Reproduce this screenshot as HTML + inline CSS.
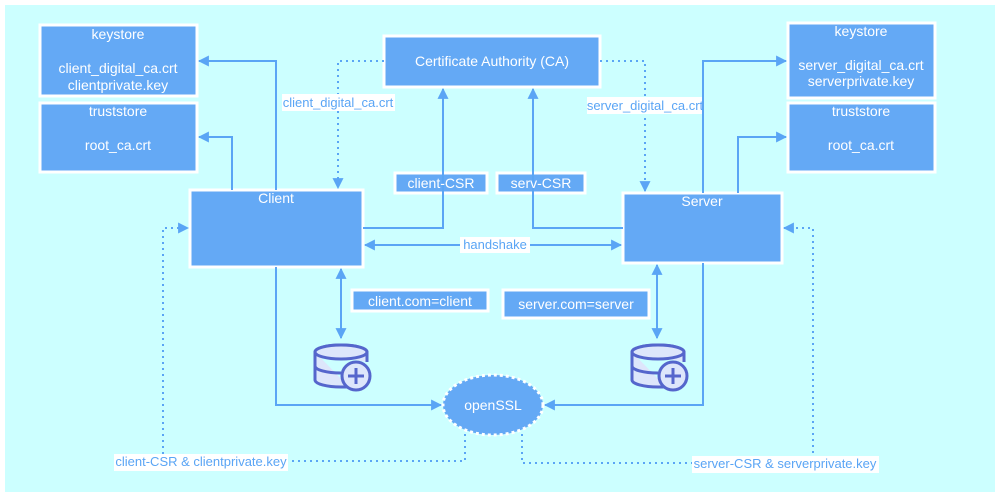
<!DOCTYPE html>
<html><head><meta charset="utf-8"><style>
html,body{margin:0;padding:0;background:#fff;width:1000px;height:497px;overflow:hidden}
svg{display:block}
text{font-family:"Liberation Sans",Arial,sans-serif;font-size:13px}
</style></head><body>
<svg width="1000" height="497" viewBox="0 0 1000 497">
<defs>
<marker id="a" viewBox="0 0 10 10" refX="9" refY="5" markerWidth="11" markerHeight="11" markerUnits="userSpaceOnUse" orient="auto-start-reverse"><path d="M0,0 L10,5 L0,10 z" fill="#5aa5f5"/></marker>
</defs>
<rect x="5" y="5" width="990" height="487" fill="#ccffff"/>
<g fill="#64a9f5" stroke="#fff" stroke-width="3">
<rect x="40" y="25" width="157" height="71"/>
<rect x="40" y="103" width="157" height="69"/>
<rect x="384" y="36" width="216" height="51"/>
<rect x="190" y="190" width="173" height="77"/>
<rect x="623" y="193" width="159" height="70"/>
<rect x="788" y="23" width="147" height="75"/>
<rect x="788" y="103" width="147" height="69"/>
<rect x="395" y="173" width="92" height="20"/>
<rect x="497" y="173" width="88" height="20"/>
<rect x="352" y="290" width="136" height="21"/>
<rect x="503" y="290" width="146" height="28"/>
<ellipse cx="493" cy="405" rx="50" ry="30" stroke-dasharray="3 3"/>
</g>
<g fill="none" stroke="#5aa5f5" stroke-width="2">
<path d="M276 190 V61 H199" marker-end="url(#a)"/>
<path d="M232 190 V137 H199" marker-end="url(#a)"/>
<path d="M363 228 H443 V89" marker-end="url(#a)"/>
<path d="M365 245 H621" marker-start="url(#a)" marker-end="url(#a)"/>
<path d="M623 228 H533 V89" marker-end="url(#a)"/>
<path d="M703 193 V61 H786" marker-end="url(#a)"/>
<path d="M738 193 V137 H786" marker-end="url(#a)"/>
<path d="M276 267 V405 H441" marker-end="url(#a)"/>
<path d="M703 263 V405 H545" marker-end="url(#a)"/>
<path d="M341 269 V338" marker-start="url(#a)" marker-end="url(#a)"/>
<path d="M657 265 V338" marker-start="url(#a)" marker-end="url(#a)"/>
</g>
<g fill="none" stroke="#5aa5f5" stroke-width="2" stroke-dasharray="2 4">
<path d="M384 61 H338 V188" marker-end="url(#a)"/>
<path d="M600 61 H645 V191" marker-end="url(#a)"/>
<path d="M465 434 V461 H163 V228 H188" marker-end="url(#a)"/>
<path d="M522 434 V463 H813 V228 H784" marker-end="url(#a)"/>
</g>
<g fill="#fff">
<rect x="282" y="94" width="113" height="17"/>
<rect x="587" y="97" width="115" height="17"/>
<rect x="460" y="237" width="70" height="16"/>
<rect x="114" y="454" width="174" height="17"/>
<rect x="692" y="456" width="187" height="17"/>
</g>
<g fill="#5aa5f5" font-size="12">
<text x="338" y="107" text-anchor="middle">client_digital_ca.crt</text>
<text x="645" y="110" text-anchor="middle">server_digital_ca.crt</text>
<text x="495" y="249" text-anchor="middle">handshake</text>
<text x="201" y="466" text-anchor="middle">client-CSR &amp; clientprivate.key</text>
<text x="785" y="468" text-anchor="middle">server-CSR &amp; serverprivate.key</text>
</g>
<g fill="#fff" text-anchor="middle" style="font-size:14px">
<text x="118" y="39" style="font-size:14px">keystore</text>
<text x="118" y="73" style="font-size:14px">client_digital_ca.crt</text>
<text x="118" y="90" style="font-size:14px">clientprivate.key</text>
<text x="118" y="116" style="font-size:14px">truststore</text>
<text x="118" y="150" style="font-size:14px">root_ca.crt</text>
<text x="492" y="66" style="font-size:14px">Certificate Authority (CA)</text>
<text x="276" y="203" style="font-size:14px">Client</text>
<text x="702" y="206" style="font-size:14px">Server</text>
<text x="861" y="36" style="font-size:14px">keystore</text>
<text x="861" y="70" style="font-size:14px">server_digital_ca.crt</text>
<text x="861" y="86" style="font-size:14px">serverprivate.key</text>
<text x="861" y="116" style="font-size:14px">truststore</text>
<text x="861" y="150" style="font-size:14px">root_ca.crt</text>
<text x="441" y="188" style="font-size:14px">client-CSR</text>
<text x="541" y="188" style="font-size:14px">serv-CSR</text>
<text x="420" y="306" style="font-size:14px">client.com=client</text>
<text x="576" y="309" style="font-size:14px">server.com=server</text>
<text x="493" y="410" style="font-size:14px">openSSL</text>
</g>
<g id="db" stroke="#5566cc" stroke-width="3" fill="#dde6fb">
<path d="M315 352 v28 a26 7 0 0 0 26 7 h8"/>
<path d="M315 352 a26 7 0 0 1 52 0 v10"/>
<ellipse cx="341" cy="352" rx="26" ry="7"/>
<path d="M315 366 a26 7 0 0 0 26 7" fill="none"/>
<circle cx="356" cy="376" r="14" fill="#dde6fb"/>
<path d="M348 376 h16 M356 368 v16" fill="none"/>
</g>
<use href="#db" x="317" y="0"/>
</svg>
</body></html>
